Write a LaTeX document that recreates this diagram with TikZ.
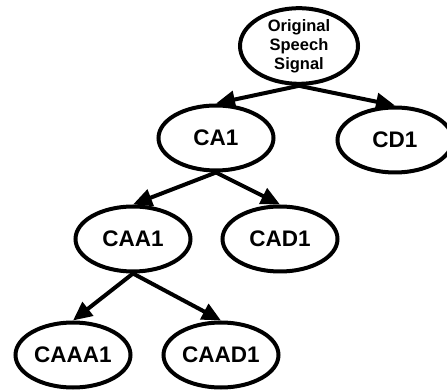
\documentclass[tikz,border=0pt]{standalone}
\usepackage{fontspec}
\setmainfont{Liberation Sans}
\usetikzlibrary{arrows.meta,shapes.geometric}

\begin{document}
\begin{tikzpicture}[
  x=1pt, y=1pt,
  band/.style={draw, ellipse, line width=4pt, inner sep=0pt,
               minimum width=115pt, minimum height=65pt,
               font=\fontsize{22.5}{26}\selectfont\bfseries},
  source/.style={band, minimum width=118pt, minimum height=68pt, align=center,
                 font=\fontsize{16.5}{19}\selectfont\bfseries},
  arrow/.style={-{Triangle[length=19pt, width=17pt]}, line width=4pt}
]
\useasboundingbox (0,0) rectangle (447,391);
\node[source] (signal) at (299,345) {Original\\Speech\\Signal};
\node[band] (ca1) at (216,253) {CA1};
\node[band] (cd1) at (395,251) {CD1};
\node[band] (caa1) at (133,152) {CAA1};
\node[band] (cad1) at (280,152) {CAD1};
\node[band] (caaa1) at (73,36) {CAAA1};
\node[band] (caad1) at (221,36) {CAAD1};
\draw[arrow] (signal.south) -- (ca1.north);
\draw[arrow] (signal.south) -- (cd1.north);
\draw[arrow] (ca1.south) -- (caa1.north);
\draw[arrow] (ca1.south) -- (cad1.north);
\draw[arrow] (caa1.south) -- (caaa1.north);
\draw[arrow] (caa1.south) -- (caad1.north);
\end{tikzpicture}
\end{document}
